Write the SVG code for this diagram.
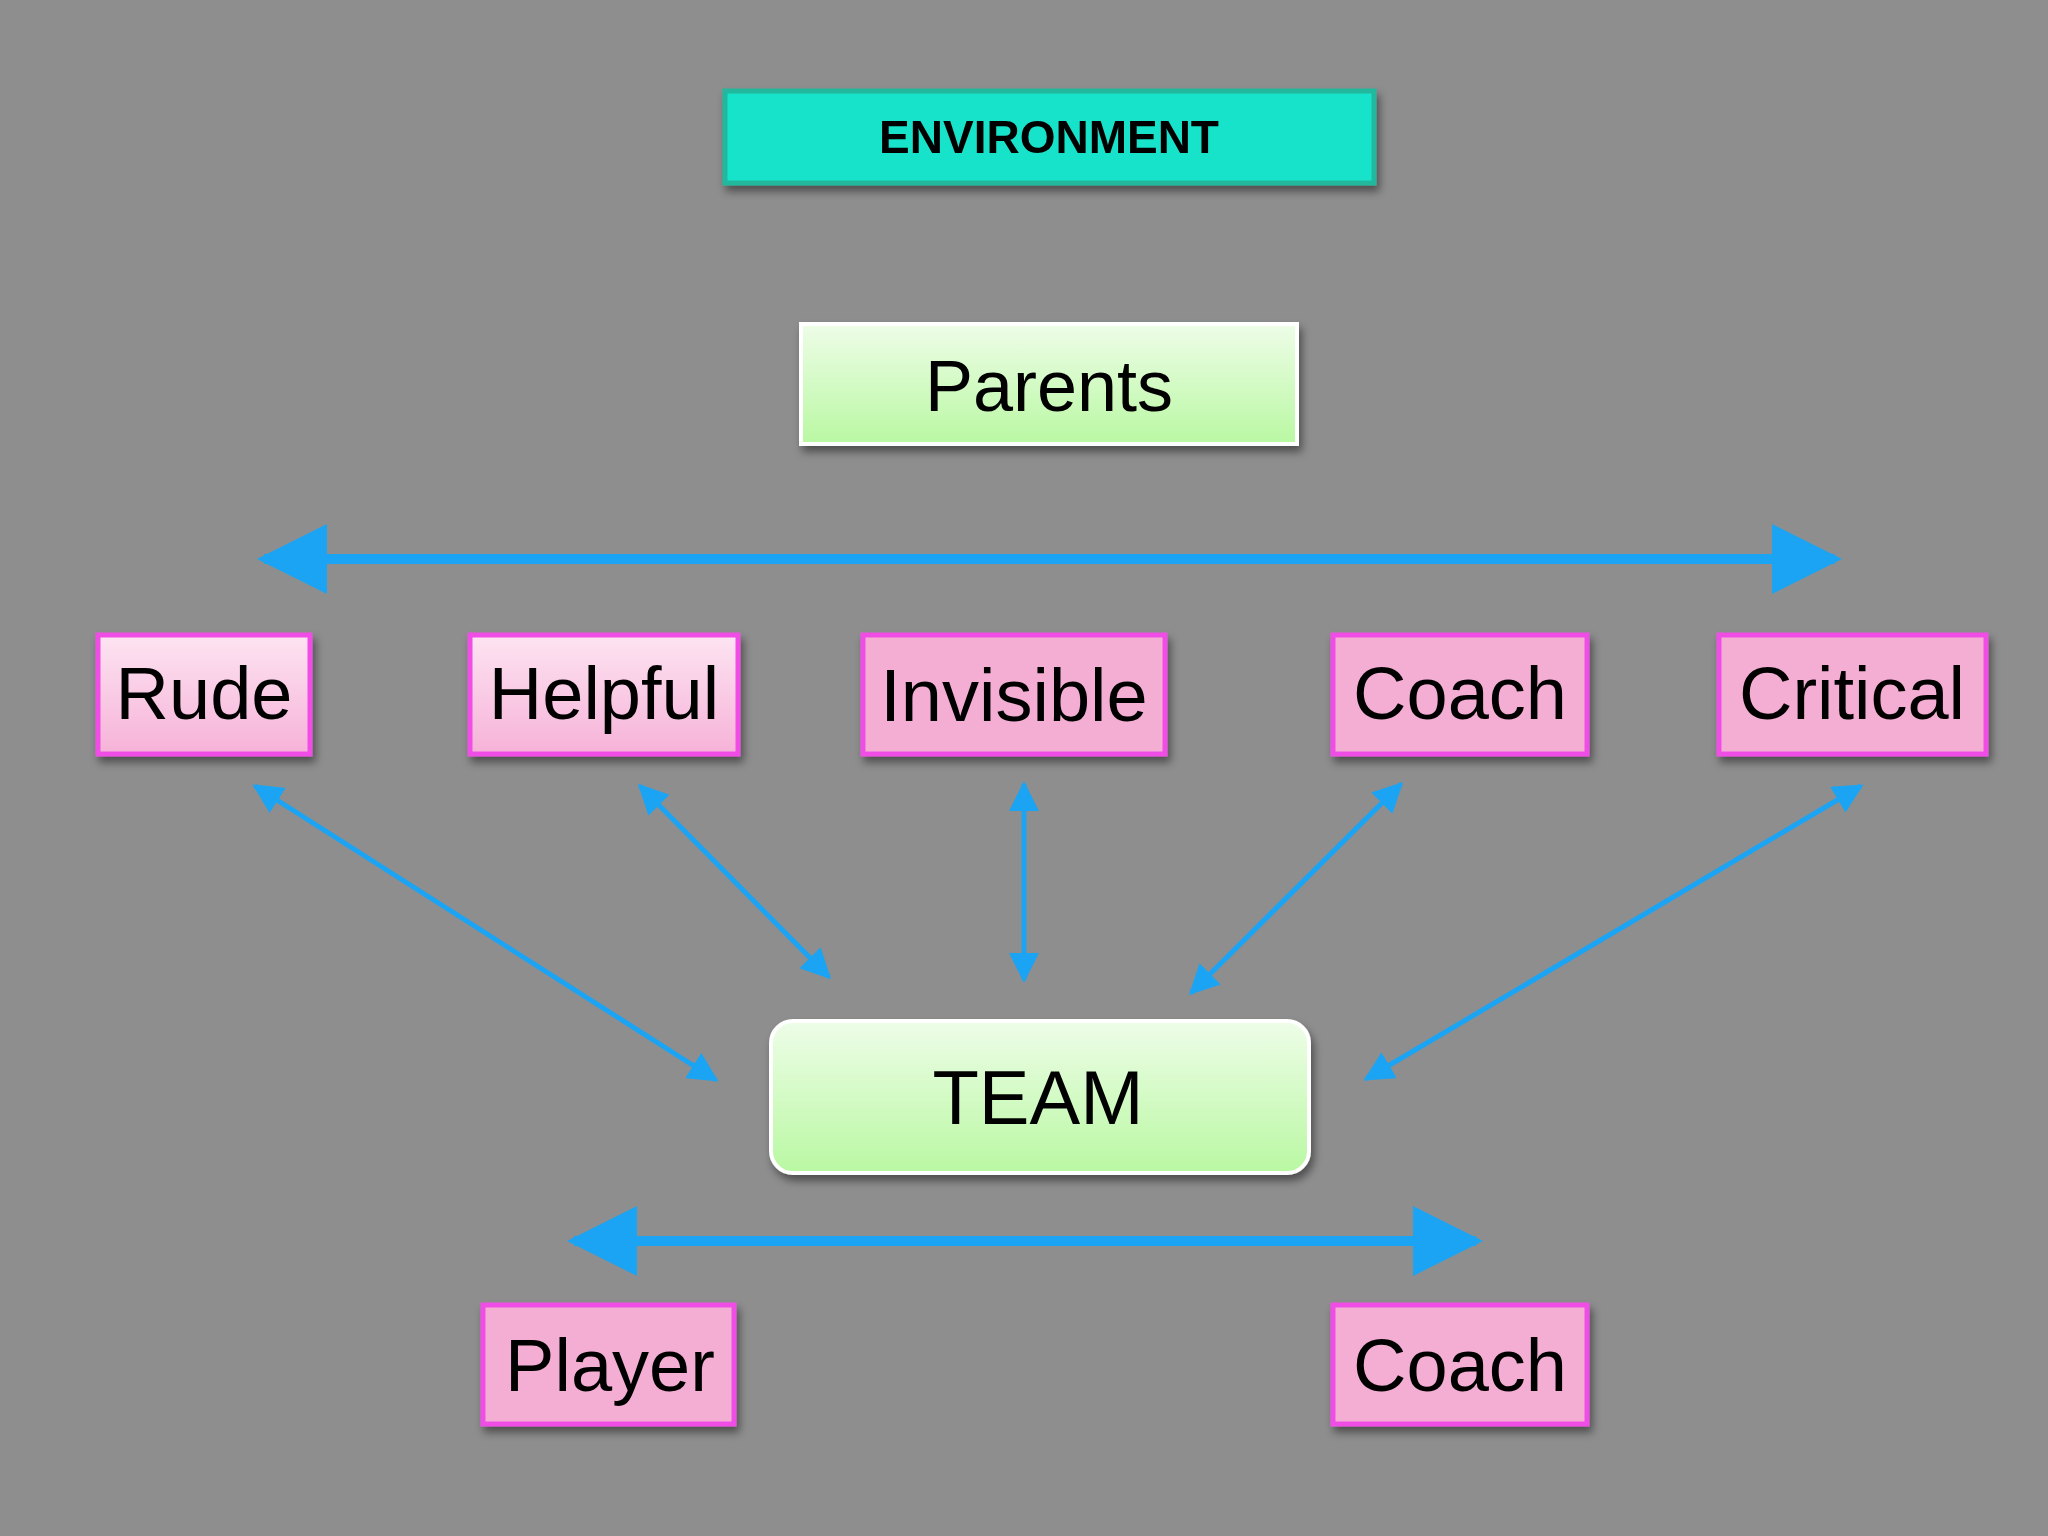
<svg xmlns="http://www.w3.org/2000/svg" width="2048" height="1536" viewBox="0 0 2048 1536">
<style>
.pk{stroke:#f04ee6;stroke-width:5}
.t{font-family:"Liberation Sans",Arial,sans-serif;fill:#000;text-anchor:middle;dominant-baseline:central}
.big{font-size:74px}
.ln{stroke:#1ca4f4;fill:none}
</style>
<defs>
<filter id="sh" x="-10%" y="-10%" width="130%" height="140%"><feDropShadow dx="3" dy="6" stdDeviation="4" flood-color="#000" flood-opacity="0.45"/></filter>
<linearGradient id="gr" x1="0" y1="0" x2="0" y2="1"><stop offset="0" stop-color="#eefde8"/><stop offset="1" stop-color="#b9f8a2"/></linearGradient>
<linearGradient id="pl" x1="0" y1="0" x2="0" y2="1"><stop offset="0" stop-color="#fde4f2"/><stop offset="1" stop-color="#f6b2d8"/></linearGradient>
<marker id="ah" viewBox="0 0 10 10" refX="9" refY="5" markerWidth="6" markerHeight="6" orient="auto-start-reverse" markerUnits="strokeWidth"><path d="M0,0L10,5L0,10z" fill="#1ca4f4"/></marker>
<marker id="ab" viewBox="0 0 10 10" refX="9" refY="5" markerWidth="7" markerHeight="9" orient="auto-start-reverse" markerUnits="strokeWidth"><path d="M0,0L10,5L0,10z" fill="#1ca4f4"/></marker>
</defs>
<rect width="2048" height="1536" fill="#8e8e8e"/>
<g id="environment" filter="url(#sh)"><rect x="725" y="91" width="649" height="92" fill="#17e3c9" stroke="#22b89e" stroke-width="5"/><text class="t" x="1049" y="137" font-size="46" font-weight="bold">ENVIRONMENT</text></g>
<g id="parents" filter="url(#sh)"><rect x="801" y="324" width="496" height="120" fill="url(#gr)" stroke="#fff" stroke-width="4"/><text class="t" x="1049" y="386" font-size="72">Parents</text></g>
<g id="rude" filter="url(#sh)"><rect class="pk" x="98" y="635" width="212" height="119" fill="url(#pl)"/><text class="t big" x="204" y="693">Rude</text></g>
<g id="helpful" filter="url(#sh)"><rect class="pk" x="470" y="635" width="268" height="119" fill="url(#pl)"/><text class="t big" x="604" y="693">Helpful</text></g>
<g id="invisible" filter="url(#sh)"><rect class="pk" x="863" y="635" width="302" height="119" fill="#f4aed4"/><text class="t big" x="1014" y="695">Invisible</text></g>
<g id="coach1" filter="url(#sh)"><rect class="pk" x="1333" y="635" width="254" height="119" fill="#f4aed4"/><text class="t big" x="1460" y="693">Coach</text></g>
<g id="critical" filter="url(#sh)"><rect class="pk" x="1719" y="635" width="267" height="119" fill="#f4aed4"/><text class="t big" x="1852" y="693">Critical</text></g>
<g id="team" filter="url(#sh)"><rect x="771" y="1021" width="538" height="152" rx="22" fill="url(#gr)" stroke="#fff" stroke-width="4"/><text class="t" x="1038" y="1097" font-size="76">TEAM</text></g>
<g id="player" filter="url(#sh)"><rect class="pk" x="483" y="1305" width="251" height="119" fill="#f4aed4"/><text class="t big" x="610" y="1365">Player</text></g>
<g id="coach2" filter="url(#sh)"><rect class="pk" x="1333" y="1305" width="254" height="119" fill="#f4aed4"/><text class="t big" x="1460" y="1365">Coach</text></g>
<g id="connectors">
<line class="ln" x1="264" y1="559" x2="1835" y2="559" stroke-width="10" marker-start="url(#ab)" marker-end="url(#ab)"/>
<line class="ln" x1="574" y1="1241" x2="1476" y2="1241" stroke-width="10" marker-start="url(#ab)" marker-end="url(#ab)"/>
<line class="ln" x1="255" y1="786" x2="716" y2="1080" stroke-width="5" marker-start="url(#ah)" marker-end="url(#ah)"/>
<line class="ln" x1="640" y1="786" x2="829" y2="977" stroke-width="5" marker-start="url(#ah)" marker-end="url(#ah)"/>
<line class="ln" x1="1024" y1="784" x2="1024" y2="980" stroke-width="5" marker-start="url(#ah)" marker-end="url(#ah)"/>
<line class="ln" x1="1401" y1="784" x2="1191" y2="993" stroke-width="5" marker-start="url(#ah)" marker-end="url(#ah)"/>
<line class="ln" x1="1861" y1="786" x2="1366" y2="1079" stroke-width="5" marker-start="url(#ah)" marker-end="url(#ah)"/>
</g>
</svg>
